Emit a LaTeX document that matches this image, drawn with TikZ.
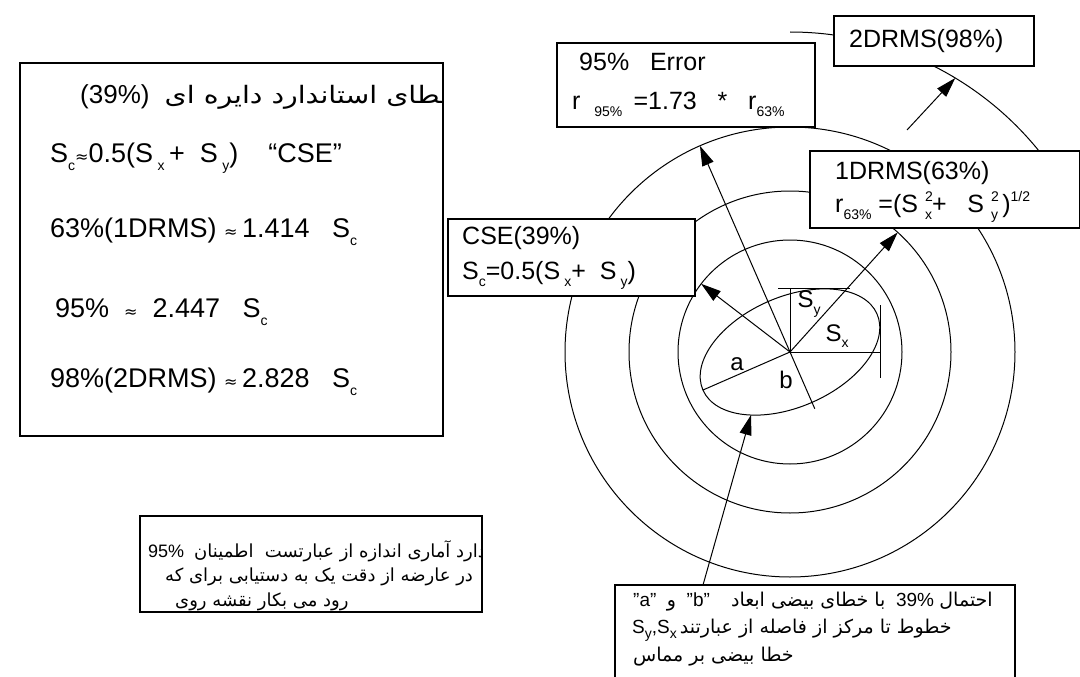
\documentclass[tikz,border=0pt]{standalone}
\usepackage{fontspec}
\usepackage{graphicx}
\setmainfont{Liberation Sans}
\newfontfamily\fa[Script=Arabic]{DejaVu Sans}
\newfontfamily\dvs{DejaVu Sans}
\usetikzlibrary{arrows.meta,calc}
\TeXXeTstate=1
\newcommand\sbs[1]{\raisebox{-0.28em}{\fontsize{14}{14}\selectfont #1}}
\newcommand\sps[1]{\raisebox{0.45em}{\fontsize{14}{14}\selectfont #1}}
\newcommand\stk[2]{\rlap{\sps{#1}}\sbs{#2}}
\newcommand\apx{{\dvs\fontsize{16}{16}\selectfont ≈}}
\newcommand\pr[1]{\hbox{\fa\beginR #1\endR}}
\begin{document}
\begin{tikzpicture}[x=1pt,y=-1pt,
  ring/.style={line width=1pt},
  box/.style={draw,line width=1.4pt,fill=white,inner sep=0pt,outer sep=0pt,anchor=north west},
  arr/.style={line width=1pt,-{Triangle[length=20pt,width=12pt]}},
  txt/.style={anchor=west,inner sep=0pt,font=\fontsize{25}{25}\selectfont},
  big/.style={anchor=west,inner sep=0pt,font=\fontsize{27}{27}\selectfont},
  small/.style={anchor=west,inner sep=0pt,font=\fontsize{18}{18}\selectfont},
  lab/.style={inner sep=0pt,font=\fontsize{24}{24}\selectfont}]
\useasboundingbox (0,0) rectangle (1080,677);
\clip (0,0) rectangle (1080,677);
\fill[white] (0,0) rectangle (1080,677);
\coordinate (C) at (790,352);
% rings
\draw[ring] (C) circle[radius=112];
\draw[ring] (C) circle[radius=161];
\draw[ring] (C) circle[radius=225];
\draw[ring] ($(C)+(0,-320)$) arc[start angle=90,end angle=15,radius=320pt];
% error ellipse
\draw[ring,rotate around={23.6:(C)}] (C) ellipse[x radius=95,y radius=55];
\coordinate (aend) at ($(C)+(156.4:95)$);
\coordinate (bend) at ($(C)+(66.4:62)$);
\coordinate (sxend) at ($(C)+(90,0)$);
\coordinate (syend) at ($(C)+(0,-64)$);
\draw[ring] (C) -- (aend);
\draw[ring] (C) -- (sxend);
\draw[ring] ($(sxend)+(0,-47)$) -- ($(sxend)+(0,26)$);
\draw[ring] (C) -- (syend);
\draw[ring] ($(syend)+(-12,0)$) -- ($(syend)+(60,0)$);
\node[lab] (la) at (737,364) {a};
\node[lab] (lb) at (786,380) {b};
\node[lab] (lsy) at (809,304) {S\sbs{y}};
\node[lab] (lsx) at (837,336) {S\sbs{x}};
% arrow targets
\coordinate (t95) at ($(C)+(-113.6:225)$);
\coordinate (tcse) at ($(C)+(-142.5:112)$);
\coordinate (t63) at ($(C)+(-48:161)$);
\coordinate (t98) at ($(C)+(-58.9:320)$);
\coordinate (t98s) at (907,130);
\coordinate (ellbot) at ($(C)+(-39,63)$);
% boxes
\node[box,minimum width=423pt,minimum height=373pt] (leftbox) at (20,63) {};
\node[box,minimum width=247pt,minimum height=77pt] (cse) at (448,219) {};
\node[box,minimum width=258pt,minimum height=84pt] (err) at (557,43) {};
\node[box,minimum width=200pt,minimum height=50pt] (drmsb) at (834,16) {};
\node[box,minimum width=270pt,minimum height=77pt] (drmsa) at (810,151) {};
\node[box,minimum width=342pt,minimum height=96pt] (conf) at (140,516) {};
\node[box,minimum width=400pt,minimum height=120pt] (ellbox) at (615,585) {};
\coordinate (ellarr) at ($(ellbox.north west)+(88,0)$);
% arrows
\draw[ring] (bend) -- (C);
\draw[arr] (C) -- (t95);
\draw[arr] (C) -- (tcse);
\draw[arr] (C) -- (t63);
\draw[arr] (t98s) -- (t98);
\draw[arr] (ellarr) -- (ellbot);
% right box texts
\node[txt] (x1) at (849,41) {2DRMS(98\%)};
\node[txt] (x2) at (579,62) {95\%\ \ \ Error};
\node[txt] (x3) at (572,104) {r\ \ \sbs{95\%}\ \,=1.73\ \ \ *\ \ \ r\sbs{63\%}};
\node[txt] (x4) at (835,173) {1DRMS(63\%)};
\node[txt] (x5) at (835,207) {r\sbs{63\%}\ =(S\ \stk{2}{x}+\ \ \ S\ \stk{2}{y}\,)\sps{1/2}};
\node[txt] (x6) at (462,238) {CSE(39\%)};
\node[txt] (x7) at (462,275) {S\sbs{c}=0.5(S\,\sbs{x}+\ \ S\,\sbs{y})};
% left box texts
\node[anchor=west,inner sep=0pt] (y1) at (80,97) {\fontsize{26}{26}\selectfont (39\%)};
\begin{scope}
\clip (20,63) rectangle (443,436);
\node[anchor=east,inner sep=0pt] (y1b) at (458,97) {\scalebox{1.18}[1]{\fa\fontsize{24}{24}\selectfont\beginR خطای استاندارد دایره ای\endR}};
\end{scope}
\node[big] (y2) at (50,158) {S\sbs{c}\apx0.5(S\,\sbs{x}\,+\ \ S\,\sbs{y})\ \ \ \ “CSE”};
\node[big] (y3) at (50,232) {63\%(1DRMS)\ \apx\,1.414\ \ \ S\sbs{c}};
\node[big] (y4) at (55,312) {95\%\ \ \apx\ \ 2.447\ \ \ S\sbs{c}};
\node[big] (y5) at (50,382) {98\%(2DRMS)\ \apx\,2.828\ \ \ S\sbs{c}};
% bottom left box texts
\begin{scope}
\clip (140,516) rectangle (482,612);
\node[small] (z1) at (148,551) {95\%\ \ \pr{استاندارد آماری اندازه از عبارتست\ \ اطمینان}};
\node[small] (z2) at (165,577) {\pr{در عارضه از دقت یک به دستیابی برای که}};
\node[small] (z3) at (175,602) {\pr{رود می بکار نقشه روی}};
\end{scope}
% bottom right box texts
\node[small,font=\fontsize{19}{19}\selectfont] (w1) at (633,602) {"a"\ \ \pr{و}\ \ "b"\ \ \ \ \pr{با خطای بیضی ابعاد}\ \ 39\%\ \pr{احتمال}};
\node[small,font=\fontsize{19}{19}\selectfont] (w2) at (632,630) {S\sbs{y},S\sbs{x}\,\pr{خطوط تا مرکز از فاصله از عبارتند}};
\node[small,font=\fontsize{19}{19}\selectfont] (w3) at (633,657) {\pr{خطا بیضی بر مماس}};
\end{tikzpicture}
\end{document}
